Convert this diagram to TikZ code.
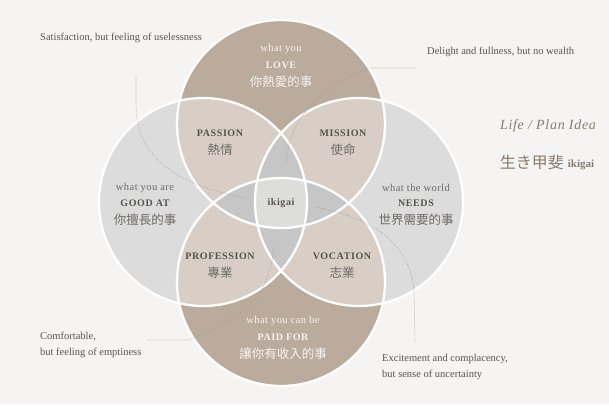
\documentclass[tikz,border=0pt]{standalone}
\usepackage{fontspec}
\setmainfont{Liberation Serif}
\newfontfamily\cjk{Noto Sans CJK TC}
\newfontfamily\jpfont{Noto Sans CJK JP}
\newfontfamily\spfont[LetterSpace=4]{Liberation Serif}
\newfontfamily\capfont[LetterSpace=6]{Liberation Serif}
\newfontfamily\titlefont[LetterSpace=5]{Liberation Serif}
\definecolor{bgc}{HTML}{F5F4F2}
\definecolor{taupe}{HTML}{BBAB9C}
\definecolor{lgray}{HTML}{DBDCDB}
\definecolor{beige}{HTML}{D8CEC5}
\definecolor{lensc}{HTML}{C6C6C7}
\definecolor{ctrc}{HTML}{DDDDDC}
\definecolor{ontaupe}{HTML}{F7F3EE}
\definecolor{darkc}{HTML}{575350}
\definecolor{midc}{HTML}{6E6B68}
\definecolor{notec}{HTML}{555555}
\definecolor{titlec}{HTML}{8A7C6F}
\definecolor{leadc}{HTML}{9A9A9A}
\begin{document}
\begin{tikzpicture}[x=1pt,y=-1pt,
  small/.style={font=\spfont\fontsize{10.5}{12}\selectfont, inner sep=0pt},
  caps/.style={font=\capfont\bfseries\fontsize{10}{12}\selectfont, inner sep=0pt},
  zh/.style={font=\cjk\fontsize{12.5}{14}\selectfont, inner sep=0pt},
  note/.style={font=\fontsize{10.5}{16}\selectfont, text=notec, align=left, anchor=west, inner sep=0pt},
  leader/.style={draw=leadc, line width=0.6pt, dash pattern=on 0.7pt off 1.3pt},
  ring/.style={draw=white, line width=2.3pt}
]
\fill[bgc] (0,0) rectangle (609,404);
\useasboundingbox (0,0) rectangle (609,404);
\def\rr{104pt}
\coordinate (cT) at (281,124);
\coordinate (cB) at (281,282);
\coordinate (cL) at (203,202);
\coordinate (cR) at (359,202);
% base circles
\fill[lgray] (cL) circle[radius=\rr];
\fill[lgray] (cR) circle[radius=\rr];
\fill[taupe] (cT) circle[radius=\rr];
\fill[taupe] (cB) circle[radius=\rr];
% two-way overlaps
\begin{scope}
  \clip (cT) circle[radius=\rr];
  \fill[beige] (cL) circle[radius=\rr];
  \fill[beige] (cR) circle[radius=\rr];
\end{scope}
\begin{scope}
  \clip (cB) circle[radius=\rr];
  \fill[beige] (cL) circle[radius=\rr];
  \fill[beige] (cR) circle[radius=\rr];
\end{scope}
% three-way lenses
\begin{scope}
  \clip (cL) circle[radius=\rr];
  \clip (cR) circle[radius=\rr];
  \fill[lensc] (cT) circle[radius=\rr];
  \fill[lensc] (cB) circle[radius=\rr];
\end{scope}
\begin{scope}
  \clip (cT) circle[radius=\rr];
  \clip (cB) circle[radius=\rr];
  \fill[lensc] (cL) circle[radius=\rr];
  \fill[lensc] (cR) circle[radius=\rr];
\end{scope}
% centre
\begin{scope}
  \clip (cT) circle[radius=\rr];
  \clip (cB) circle[radius=\rr];
  \clip (cL) circle[radius=\rr];
  \fill[ctrc] (cR) circle[radius=\rr];
\end{scope}
% white rings
\draw[ring] (cL) circle[radius=\rr];
\draw[ring] (cR) circle[radius=\rr];
\draw[ring] (cT) circle[radius=\rr];
\draw[ring] (cB) circle[radius=\rr];

% top circle
\node[small, text=ontaupe] (loveA) at (281,49) {what you};
\node[caps, text=ontaupe] (loveB) at (281,65) {LOVE};
\node[zh, text=ontaupe] (loveC) at (281,82) {你熱愛的事};
% left
\node[small, text=midc] (goodA) at (145,188) {what you are};
\node[caps, text=darkc] (goodB) at (145,203) {GOOD AT};
\node[zh, text=midc] (goodC) at (145,220) {你擅長的事};
% right
\node[small, text=midc] (needA) at (416,188) {what the world};
\node[caps, text=darkc] (needB) at (416,203) {NEEDS};
\node[zh, text=midc] (needC) at (416,220) {世界需要的事};
% bottom
\node[small, text=ontaupe] (paidA) at (283,321) {what you can be};
\node[caps, text=ontaupe] (paidB) at (283,337) {PAID FOR};
\node[zh, text=ontaupe] (paidC) at (283,354) {讓你有收入的事};
% overlaps
\node[caps, text=darkc] (passA) at (220,133) {PASSION};
\node[zh, text=midc] (passB) at (220,150) {熱情};
\node[caps, text=darkc] (missA) at (343,133) {MISSION};
\node[zh, text=midc] (missB) at (343,150) {使命};
\node[caps, text=darkc] (profA) at (220,256) {PROFESSION};
\node[zh, text=midc] (profB) at (220,273) {專業};
\node[caps, text=darkc] (vocA) at (342,256) {VOCATION};
\node[zh, text=midc] (vocB) at (342,273) {志業};
\node[caps, text=darkc] (iki) at (281,203) {ikigai};

% annotations
\node[note] (n1) at (40,38) {Satisfaction, but feeling of uselessness};
\node[note] (n2) at (427,52) {Delight and fullness, but no wealth};
\node[note] (n3) at (40,345) {Comfortable,\\but feeling of emptiness};
\node[note] (n4) at (382,367) {Excitement and complacency,\\but sense of uncertainty};

% title
\node[font=\titlefont\itshape\fontsize{14}{16}\selectfont, text=titlec, inner sep=0pt] (t1) at (548,126) {Life / Plan Idea};
\node[text=titlec, inner sep=0pt] (t2) at (547,162) {{\jpfont\fontsize{16}{18}\selectfont 生き甲斐}\hspace{4pt}{\bfseries\fontsize{11}{13}\selectfont\raisebox{1pt}{ikigai}}};

% leaders
\coordinate (a1) at (136,75);
\coordinate (a1m) at (136,105);
\coordinate (e1) at (245,198);
\coordinate (a2) at (416,68);
\coordinate (a2m) at (370,68);
\coordinate (e2) at (286,165);
\coordinate (a3) at (148,340);
\coordinate (a3m) at (188,340);
\coordinate (e3) at (274,245);
\coordinate (a4) at (415,342);
\coordinate (a4m) at (414,290);
\coordinate (e4) at (315,207);
\draw[leader] (a1) -- (a1m) .. controls (136,165) and (190,187) .. (e1);
\draw[leader] (a2) -- (a2m) .. controls (320,85) and (288,120) .. (e2);
\draw[leader] (a3) -- (a3m) .. controls (240,320) and (270,300) .. (e3);
\draw[leader] (a4) -- (a4m) .. controls (410,245) and (375,218) .. (e4);
\end{tikzpicture}
\end{document}
